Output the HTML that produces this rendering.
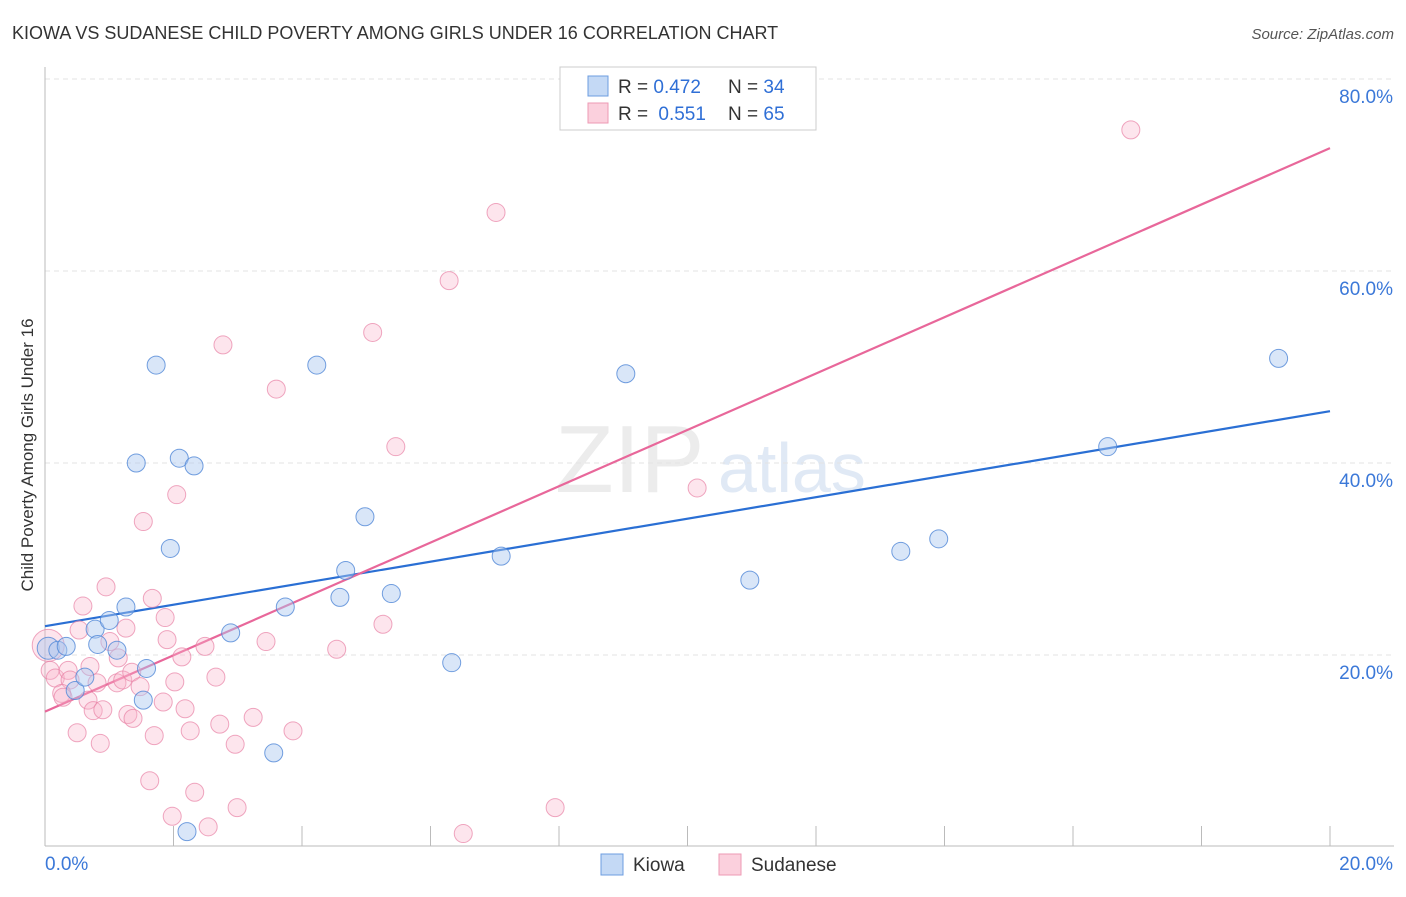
<!DOCTYPE html>
<html><head><meta charset="utf-8"><style>
body{margin:0;background:#fff;font-family:"Liberation Sans",sans-serif;}
svg text{font-family:"Liberation Sans",sans-serif;}
</style></head><body>
<svg id="chart" width="1406" height="892" viewBox="0 0 1406 892" xmlns="http://www.w3.org/2000/svg">
<text x="12" y="39" font-size="18" fill="#333">KIOWA VS SUDANESE CHILD POVERTY AMONG GIRLS UNDER 16 CORRELATION CHART</text>
<text x="1394" y="39" font-size="15" fill="#555" text-anchor="end" font-style="italic">Source: ZipAtlas.com</text>
<text x="555" y="492" font-size="96" fill="#ececec" font-family="Liberation Serif">ZIP</text>
<text x="718" y="492" font-size="70" fill="#e0e9f5">atlas</text>
<g id="grid"></g><g id="axes"></g><g id="lines"></g><g id="points"></g>
<text transform="translate(33,455) rotate(-90)" font-size="17" fill="#333" text-anchor="middle">Child Poverty Among Girls Under 16</text>
<g>
<rect x="560" y="67" width="256" height="63" fill="#fff" stroke="#ccc"/>
<rect x="588" y="76" width="20" height="20" fill="#c4d9f5" stroke="#6c9de0"/>
<rect x="588" y="103" width="20" height="20" fill="#fbd0dd" stroke="#ee9ab4"/>
<text x="618" y="93" font-size="19" fill="#333">R = <tspan fill="#2f6fd6">0.472</tspan></text>
<text x="728" y="93" font-size="19" fill="#333">N = <tspan fill="#2f6fd6">34</tspan></text>
<text x="618" y="120" font-size="19" fill="#333">R = <tspan dx="5" fill="#2f6fd6">0.551</tspan></text>
<text x="728" y="120" font-size="19" fill="#333">N = <tspan fill="#2f6fd6">65</tspan></text>
</g>
<g>
<rect x="601" y="854" width="22" height="21" fill="#c4d9f5" stroke="#6c9de0"/>
<text x="633" y="871" font-size="19" fill="#333">Kiowa</text>
<rect x="719" y="854" width="22" height="21" fill="#fbd0dd" stroke="#ee9ab4"/>
<text x="751" y="871" font-size="19" fill="#333">Sudanese</text>
</g>
</svg>
<script>
const yTicks=[20,40,60,80];
const xTickLabels=["0.0%","20.0%"];
const kiowaX=[0.05,0.20,0.33,0.47,0.62,0.78,0.82,1.00,1.12,1.26,1.42,1.53,1.58,1.73,1.95,2.09,2.32,2.21,2.89,3.56,3.74,4.23,4.59,4.68,4.98,5.39,6.33,7.10,9.04,10.97,13.32,13.91,16.54,19.20];
const kiowaY=[20.7,20.5,20.9,16.3,17.7,22.7,21.1,23.6,20.5,25.0,40.0,15.3,18.6,50.2,31.1,40.5,39.7,1.6,22.3,9.8,25.0,50.2,26.0,28.8,34.4,26.4,19.2,30.3,49.3,27.8,30.8,32.1,41.7,50.9];
const sudX=[0.95,0.59,1.67,1.87,0.53,1.26,1.01,1.90,2.49,3.44,4.54,2.13,1.14,0.70,0.05,0.08,0.16,0.36,0.39,0.81,0.26,0.28,1.12,1.21,1.35,1.48,2.02,2.66,0.67,0.75,0.90,1.29,1.37,1.84,2.18,2.26,2.72,3.24,3.86,0.50,0.86,1.70,2.96,1.63,2.33,2.99,1.98,2.54,16.90,7.02,6.29,5.10,2.77,3.60,5.46,2.05,10.15,1.53,5.26,6.51,7.94];
const sudY=[27.1,25.1,25.9,23.9,22.6,22.8,21.4,21.6,20.9,21.4,20.6,19.8,19.7,18.8,21.0,18.4,17.6,18.4,17.4,17.1,16.0,15.6,17.1,17.4,18.2,16.7,17.2,17.7,15.3,14.2,14.3,13.8,13.4,15.1,14.4,12.1,12.8,13.5,12.1,11.9,10.8,11.6,10.7,6.9,5.7,4.1,3.2,2.1,74.7,66.1,59.0,53.6,52.3,47.7,41.7,36.7,37.4,33.9,23.2,1.4,4.1];
const kiowaTrend=[23.0,45.4];
const sudTrend=[14.1,72.8];
const NS="http://www.w3.org/2000/svg";
const X=v=>45+v/20*1285, Y=v=>847-v/20*192;
function mk(t,a,p){const e=document.createElementNS(NS,t);for(const k in a)e.setAttribute(k,a[k]);document.getElementById(p).appendChild(e);return e;}
yTicks.forEach(t=>{
 const l=mk('line',{x1:45,x2:1394,y1:Y(t),y2:Y(t),stroke:'#e3e3e3','stroke-dasharray':'5,4'},'grid');
 
 
 const tx=mk('text',{x:1393,y:Y(t)+24,'font-size':19,fill:'#3b78d8','text-anchor':'end'},'grid');
 tx.textContent=t.toFixed(1)+'%';
 
 
});
const ax=mk('line',{x1:45,x2:45,y1:67,y2:846,stroke:'#bbb'},'axes');


const bx=mk('line',{x1:45,x2:1394,y1:846,y2:846,stroke:'#bbb'},'axes');


for(let i=0;i<=10;i++){const tk=mk('line',{x1:X(i*2),x2:X(i*2),y1:826,y2:846,stroke:'#bbb'},'axes');
 
 }
[[0,'start',45],[1,'end',1393]].forEach(([i,a,x])=>{const t=mk('text',{x:x,y:870,'font-size':19,fill:'#3b78d8','text-anchor':a},'axes');t.textContent=xTickLabels[i];
 
 });
sudX.forEach((v,i)=>{const big=i===14;const c=mk('circle',{cx:X(v),cy:Y(sudY[i]),r:big?16:9,fill:'rgba(248,180,202,0.35)',stroke:'rgba(232,130,165,0.7)','stroke-width':1},'points');
 
 });
kiowaX.forEach((v,i)=>{const c=mk('circle',{cx:X(v),cy:Y(kiowaY[i]),r:i===0?11:9,fill:'rgba(170,200,240,0.45)',stroke:'rgba(80,135,215,0.8)','stroke-width':1},'points');
 
 });
const kl=mk('line',{x1:X(0),y1:Y(kiowaTrend[0]),x2:X(20),y2:Y(kiowaTrend[1]),stroke:'#2a6fd4','stroke-width':2.2},'lines');


const sl=mk('line',{x1:X(0),y1:Y(sudTrend[0]),x2:X(20),y2:Y(sudTrend[1]),stroke:'#e8679a','stroke-width':2.2},'lines');


</script>
</body></html>
